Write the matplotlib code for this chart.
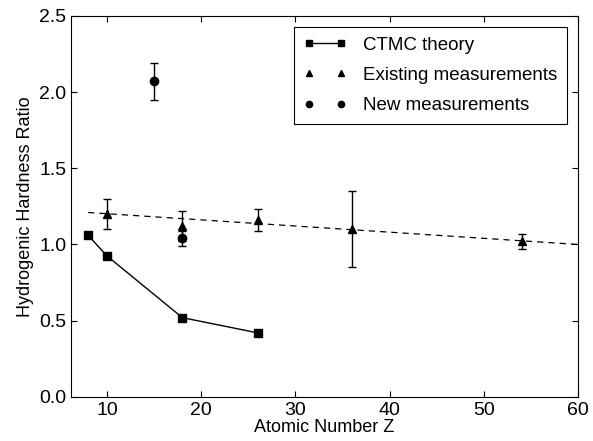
import matplotlib
matplotlib.use('Agg')
import matplotlib.pyplot as plt
from matplotlib.lines import Line2D

plt.rcParams['font.family'] = ['Liberation Sans', 'DejaVu Sans']

# CTMC theory
ctmc_z = [8, 10, 18, 26]
ctmc_ratio = [1.06, 0.925, 0.52, 0.42]

# Existing measurements
exist_z = [10, 18, 26, 36, 54]
exist_ratio = [1.20, 1.12, 1.16, 1.10, 1.02]
exist_err = [0.10, 0.10, 0.07, 0.25, 0.05]

# New measurements
new_z = [15, 18]
new_ratio = [2.07, 1.04]
new_err = [0.12, 0.05]

# dashed fit line endpoints
fit_z = [8, 60]
fit_ratio = [1.21, 1.0]

fig = plt.figure(figsize=(5.93, 4.41), dpi=100)
ax = fig.add_axes([0.12, 0.10, 0.855, 0.864])

ax.plot(ctmc_z, ctmc_ratio, '-s', color='black', lw=1.0, ms=6)
ax.errorbar(exist_z, exist_ratio, yerr=exist_err, fmt='^', color='black', ms=6,
            elinewidth=1.0, capsize=3)
ax.errorbar(new_z, new_ratio, yerr=new_err, fmt='o', color='black', ms=6,
            elinewidth=1.0, capsize=3)
ax.plot(fit_z, fit_ratio, '--', color='black', lw=0.9, dashes=(5, 4))

ax.set_xlim(6.2, 60)
ax.set_ylim(0, 2.5)
ax.set_xticks([10, 20, 30, 40, 50, 60])
ax.set_yticks([0.0, 0.5, 1.0, 1.5, 2.0, 2.5])
ax.set_yticklabels(['0.0', '0.5', '1.0', '1.5', '2.0', '2.5'])
ax.tick_params(direction='in', top=True, right=True, labelsize=14, length=4)
ax.set_xlabel('Atomic Number Z', fontsize=13, labelpad=0)
ax.set_ylabel('Hydrogenic Hardness Ratio', fontsize=13, labelpad=4)

handles = [
    Line2D([], [], color='black', marker='s', ms=5, lw=1.0),
    Line2D([], [], color='black', marker='^', ms=4.5, ls='none'),
    Line2D([], [], color='black', marker='o', ms=4.5, ls='none'),
]
labels = ['CTMC theory', 'Existing measurements', 'New measurements']
leg = ax.legend(handles, labels, loc='upper right', numpoints=2,
                fontsize=13.5, fancybox=False, edgecolor='black', framealpha=1,
                borderaxespad=0.6, handlelength=2.3, handletextpad=0.9,
                labelspacing=0.7, borderpad=0.5)
leg.get_frame().set_linewidth(0.8)

fig.savefig('out.png', dpi=100)
